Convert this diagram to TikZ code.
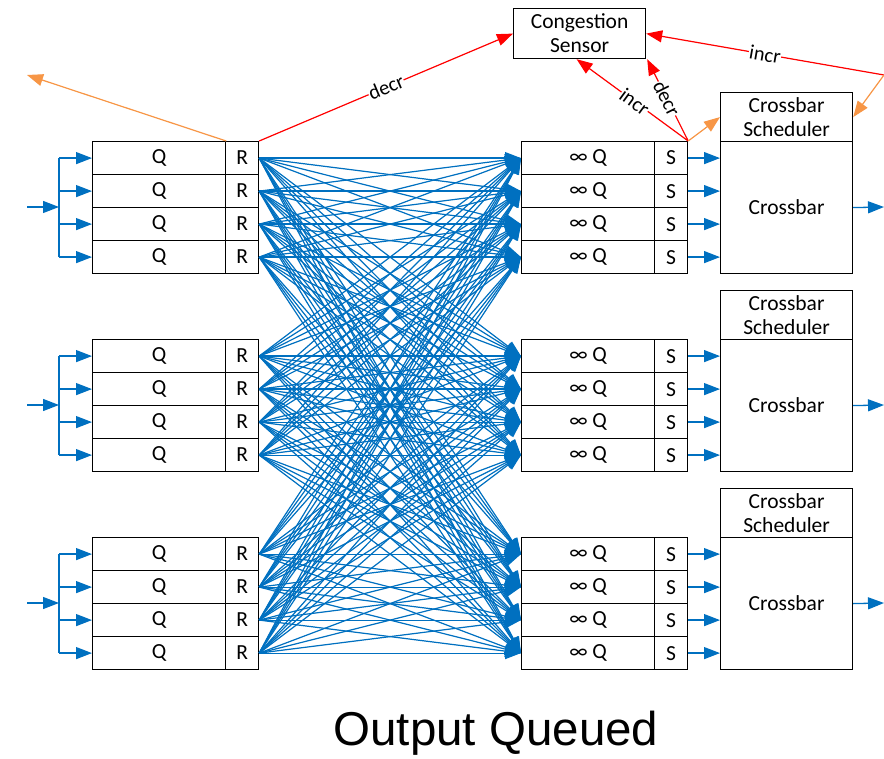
\documentclass[tikz,border=0pt]{standalone}
\usepackage{fontspec}
\setmainfont{Carlito}
\newfontfamily\titlefont{Liberation Sans}
\usetikzlibrary{arrows.meta}

\definecolor{linkblue}{RGB}{0,112,192}
\definecolor{ctrlred}{RGB}{255,0,0}
\definecolor{ctrlorange}{RGB}{247,150,70}

\tikzset{
  cell/.style={draw, line width=1.2pt, inner sep=0pt, anchor=north west,
    minimum height=33pt, font=\fontsize{21.5}{26}\selectfont},
  qcell/.style={cell, minimum width=133pt},
  tagcell/.style={cell, minimum width=33pt},
  bigbox/.style={draw, line width=1.2pt, inner sep=0pt, anchor=north west,
    minimum width=132pt, align=center, font=\fontsize{21.5}{26}\selectfont},
  tip/.style={-{Triangle[length=16pt,width=12pt]}},
  feed/.style={tip, draw=linkblue, fill=linkblue, line width=1.3pt},
  wire/.style={draw=linkblue, line width=1.3pt},
  mesh/.style={-{Triangle[length=16pt,width=12pt]}, draw=linkblue, fill=linkblue, line width=1.2pt},
  redarrow/.style={tip, draw=ctrlred, fill=ctrlred, line width=1.2pt},
  orangearrow/.style={tip, draw=ctrlorange, fill=ctrlorange, line width=1.2pt},
  lbl/.style={fill=white, inner sep=0.5pt, sloped, font=\fontsize{20.5}{24}\selectfont}
}

\begin{document}
\begin{tikzpicture}[x=1pt, y=-1pt]
\useasboundingbox (0,0) rectangle (884,759);

% three groups of input queues, output queues and crossbars
\foreach \g in {1,2,3} {
  \pgfmathsetmacro{\top}{141+(\g-1)*198}
  \foreach \r in {1,2,3,4} {
    \pgfmathsetmacro{\y}{\top+(\r-1)*33}
    \node[qcell]   (lq-\g-\r) at (92,\y)  {Q};
    \node[tagcell] (lr-\g-\r) at (225,\y) {R};
    \node[qcell]   (rq-\g-\r) at (521,\y) {∞ Q};
    \node[tagcell] (rs-\g-\r) at (654,\y) {S};
  }
  \node[bigbox, minimum height=49pt] (sch-\g) at (720,\top-49) {Crossbar\\[-2pt]Scheduler};
  \node[bigbox, minimum height=132pt] (xb-\g) at (720,\top) {Crossbar};

  % fan-in of the input link
  \coordinate (in-\g) at (27,\top+66);
  \coordinate (br-\g) at (59,\top+66);
  \draw[feed] (in-\g) -- (br-\g);
  \draw[wire] (br-\g |- lq-\g-1.west) -- (br-\g |- lq-\g-4.west);
  \foreach \r in {1,2,3,4} {
    \draw[feed] (br-\g |- lq-\g-\r.west) -- (lq-\g-\r.west);
    \draw[feed] (rs-\g-\r.east) -- (xb-\g.west |- rs-\g-\r.east);
  }
  % crossbar output
  \coordinate (out-\g) at (884,\top+66);
  \draw[feed] (xb-\g.east) -- (out-\g);
}

% full mesh from every router to every output queue
\foreach \g in {1,2,3} {
  \foreach \r in {1,2,3,4} {
    \foreach \h in {1,2,3} {
      \foreach \s in {1,2,3,4} {
        \draw[mesh] (lr-\g-\r.east) -- (rq-\h-\s.west);
      }
    }
  }
}

% congestion control
\node[bigbox, minimum height=50pt] (cs) at (513,8) {Congestion\\[-2pt]Sensor};
\coordinate (ext) at (884,75);
\coordinate (far) at (27,75);

\draw[redarrow] (lr-1-1.north east) -- node[lbl] {decr} (cs.west);
\draw[redarrow] (rs-1-1.north east) -- node[lbl, pos=0.48] {incr} ([xshift=-3pt]cs.south);
\draw[redarrow] (rs-1-1.north east) -- node[lbl, pos=0.52] {decr} ([xshift=1pt]cs.south east);
\draw[redarrow] (ext) -- node[lbl] {incr} (cs.east);

\draw[orangearrow] (lq-1-1.north east) -- (far);
\draw[orangearrow] (rs-1-1.north east) -- (sch-1.west);
\draw[orangearrow] (ext) -- (sch-1.east);

% caption
\node[font=\titlefont\fontsize{47.5}{56}\selectfont, anchor=base] (title) at (496,745) {Output Queued};
\end{tikzpicture}
\end{document}
